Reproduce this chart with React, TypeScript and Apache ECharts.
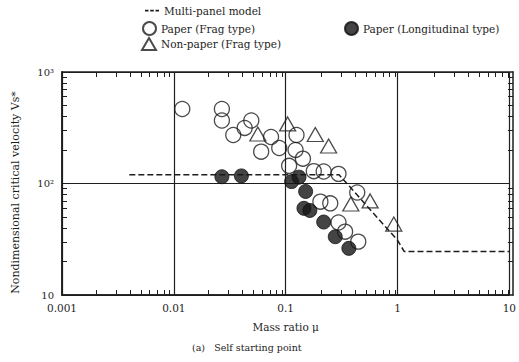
import React, { useEffect, useRef } from "react";
import * as echarts from "echarts";

// Paper (Frag type) — open circles [mass ratio, Vs*]
const paperFrag: number[][] = [
  [0.0119, 466], [0.0269, 466], [0.0269, 367], [0.034, 272], [0.043, 315],
  [0.0493, 367], [0.074, 261], [0.0604, 193], [0.0876, 208], [0.125, 272],
  [0.1226, 200], [0.1427, 167], [0.1074, 144], [0.1785, 129], [0.2188, 128],
  [0.2968, 122], [0.2045, 68.7], [0.2506, 66.4], [0.2968, 44.7], [0.34, 37],
  [0.4457, 30.1], [0.4365, 83],
];
// Paper (Longitudinal type) — filled circles
const paperLong: number[][] = [
  [0.0269, 115], [0.0402, 117], [0.113, 104], [0.1316, 114], [0.1509, 84.8],
  [0.1457, 59.9], [0.1646, 57.3], [0.2188, 45.1], [0.2776, 33.3], [0.3674, 26.2],
];
// Non-paper (Frag type) — open triangles
const nonPaper: number[][] = [
  [0.0564, 278], [0.1041, 342], [0.184, 275], [0.2421, 217], [0.3826, 65.5],
  [0.5689, 69.7], [0.9267, 43.3],
];
// Multi-panel model — dashed line
const model: number[][] = [
  [0.004, 120], [0.3, 120], [1.0, 31], [1.15, 24.5], [10, 24.5],
];

const xDecades = [0.001, 0.01, 0.1, 1];
const yDecades = [10, 100];
const minorSteps = [2, 3, 4, 5, 6, 7, 8, 9];
const xLabels: Record<string, string> = { "0.001": "0.001", "0.01": "0.01", "0.1": "0.1", "1": "1", "10": "10" };
const yLabels: Record<string, string> = { "10": "10", "100": "10²", "1000": "10³" };

const FONT = "DejaVu Serif";
const INK = "#1e1e1e";
const DASH_ICON = "path://M0,4h4v2h-4z M6,4h4v2h-4z M12,4h4v2h-4z";

export default function App() {
  const ref = useRef<HTMLDivElement>(null);
  useEffect(() => {
    if (!ref.current) return;
    const chart = echarts.init(ref.current, undefined, { renderer: "svg" });
    const xTickVals: number[] = [];
    xDecades.forEach((d) => minorSteps.forEach((s) => xTickVals.push(+(d * s).toPrecision(6))));
    const yTickVals: number[] = [];
    yDecades.forEach((d) => minorSteps.forEach((s) => yTickVals.push(d * s)));

    const legText = { fontFamily: FONT, fontSize: 10.5, color: INK };
    const axisLine = { show: true, lineStyle: { color: INK, width: 1.5 } };
    const gridBox = { left: 62, right: 6, top: 72, bottom: 67 };
    const tickAxis = (kind: "x" | "y", position: string, vals: number[]) => ({
      type: "log", gridIndex: 1, position, logBase: 10,
      min: kind === "x" ? 0.001 : 10, max: kind === "x" ? 10 : 1000,
      axisLine,
      axisTick: { show: true, inside: true, length: 5, customValues: vals, lineStyle: { color: INK, width: 1 } },
      axisLabel: { show: false }, splitLine: { show: false },
    });

    chart.setOption({
      animation: false,
      backgroundColor: "#fff",
      textStyle: { fontFamily: FONT, color: INK },
      grid: [gridBox, gridBox],
      legend: [
        { data: [{ name: "Multi-panel model", icon: DASH_ICON }], left: 145, top: 5, padding: 0, itemWidth: 14, itemHeight: 8, textStyle: legText },
        { data: ["Paper (Frag type)"], left: 142, top: 21, padding: 0, itemWidth: 13, itemHeight: 13, textStyle: legText },
        { data: ["Paper (Longitudinal type)"], left: 344, top: 21, padding: 0, itemWidth: 13, itemHeight: 13, textStyle: legText },
        { data: ["Non-paper (Frag type)"], left: 141, top: 37, padding: 0, itemWidth: 14, itemHeight: 12, textStyle: legText },
      ],
      xAxis: [
        {
          type: "log", gridIndex: 0, min: 0.001, max: 10, logBase: 10,
          name: "Mass ratio μ", nameLocation: "middle", nameGap: 26,
          nameTextStyle: { fontFamily: FONT, fontSize: 10.5, color: INK },
          axisLine,
          axisTick: { show: false },
          axisLabel: { fontFamily: FONT, fontSize: 10.5, color: INK, margin: 7,
            formatter: (v: number) => xLabels[String(+v.toPrecision(6))] ?? "" },
          splitLine: { show: true, lineStyle: { color: INK, width: 1.2 } },
        },
        tickAxis("x", "bottom", xTickVals),
        tickAxis("x", "top", xTickVals),
      ],
      yAxis: [
        {
          type: "log", gridIndex: 0, min: 10, max: 1000, logBase: 10,
          name: "Nondimensional critical velocity Vs*", nameLocation: "middle", nameGap: 41,
          nameTextStyle: { fontFamily: FONT, fontSize: 11, color: INK, padding: [0, 18, 0, 0] },
          axisLine,
          axisTick: { show: false },
          axisLabel: { fontFamily: FONT, fontSize: 10, color: INK, margin: 8,
            formatter: (v: number) => yLabels[String(Math.round(v))] ?? "" },
          splitLine: { show: true, lineStyle: { color: INK, width: 1.2 } },
        },
        tickAxis("y", "left", yTickVals),
        tickAxis("y", "right", yTickVals),
      ],
      series: [
        {
          name: "Multi-panel model", type: "line", data: model, symbol: "none", z: 2,
          lineStyle: { color: INK, width: 1.5, type: [6, 3] }, itemStyle: { color: INK },
        },
        {
          name: "Paper (Frag type)", type: "scatter", data: paperFrag, symbol: "circle", symbolSize: 15, z: 3,
          itemStyle: { color: "rgba(255,255,255,0)", borderColor: INK, borderWidth: 1.3 },
        },
        {
          name: "Paper (Longitudinal type)", type: "scatter", data: paperLong, symbol: "circle", symbolSize: 14, z: 4,
          itemStyle: { color: "#151515", borderColor: "#111", borderWidth: 1 },
        },
        {
          name: "Non-paper (Frag type)", type: "scatter", data: nonPaper, symbol: "triangle", symbolSize: [16, 14], z: 3,
          itemStyle: { color: "rgba(255,255,255,0)", borderColor: INK, borderWidth: 1.3 },
        },
      ],
      graphic: [
        { type: "text", left: 192, top: 342, style: { text: "(a)   Self starting point", fontFamily: FONT, fontSize: 9.5, fill: INK } },
      ],
    });
    return () => chart.dispose();
  }, []);
  return <div ref={ref} style={{ position: "fixed", left: 0, top: 0, width: 519, height: 362, background: "#fff" }} />;
}
